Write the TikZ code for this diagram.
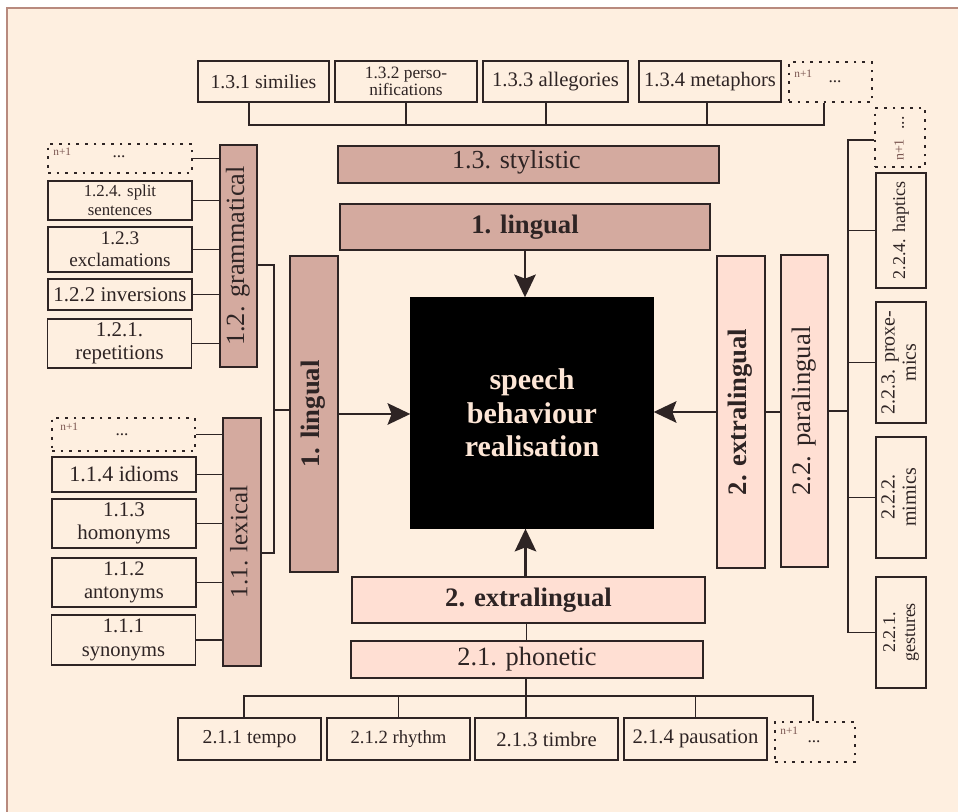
\documentclass[tikz,border=0pt]{standalone}
\usepackage{fontspec}
\setmainfont{Liberation Serif}
\usepackage{graphicx}
\usetikzlibrary{arrows.meta}
\definecolor{cream}{HTML}{FEEFE0}
\definecolor{rose}{HTML}{D4AA9F}
\definecolor{peach}{HTML}{FFDFD3}
\definecolor{ink}{HTML}{2E2424}
\definecolor{framec}{HTML}{B88A7E}
\definecolor{lighttext}{HTML}{FDE6D6}
\definecolor{faint}{HTML}{7A5550}
\newcommand\fsz[2]{\fontsize{#1pt}{#2pt}\selectfont}
\newcommand\rot[2]{\rotatebox{90}{#1\begin{tabular}{@{}c@{}}#2\end{tabular}}}
\begin{document}
\begin{tikzpicture}[x=0.75pt,y=-0.75pt,
  wh/.style 2 args={minimum width=#1*0.75pt, minimum height=#2*0.75pt},
  sbox/.style={draw=ink, line width=1.3pt, fill=cream, inner sep=0pt, text=ink, align=center},
  dbox/.style={draw=ink, line width=1.4pt, dash pattern=on 2pt off 4.5pt, inner sep=0pt},
  rosebox/.style={draw=ink, line width=1.8pt, fill=rose, inner sep=0pt, text=ink, align=center},
  peachbox/.style={draw=ink, line width=1.8pt, fill=peach, inner sep=0pt, text=ink, align=center},
  conn/.style={draw=ink, line width=1.1pt},
  arr/.style={draw=ink, line width=2.2pt, -{Stealth[length=17pt,width=16pt,inset=3pt]}},
  nplus/.style={inner sep=0pt, text=faint, font=\fsz{8.5}{9}},
  dots/.style={inner sep=0pt, text=ink, font=\fsz{13}{14}}]
\useasboundingbox (0,0) rectangle (958,812);
\clip (0,0) rectangle (958,812);
\fill[white] (0,0) rectangle (958,812);
\draw[framec, line width=1.5pt, fill=cream] (7,8) rectangle (990,850);

% coordinates of buses
\coordinate (topbus) at (0,125);
\coordinate (botbus) at (0,696);
\coordinate (lbus) at (274,0);
\coordinate (rbus) at (848,0);

% ---------- top row ----------
\node[sbox, wh={131}{41}, font=\fsz{14.8}{16}] (s131) at (263.5,81.5) {1.3.1 similies};
\node[sbox, wh={142}{41}, font=\fsz{13}{13.2}] (s132) at (406,81.5) {1.3.2 perso-\\nifications};
\node[sbox, wh={145}{41}, font=\fsz{15.5}{17}] (s133) at (555.5,81.5) {1.3.3 allegories};
\node[sbox, wh={142}{41}, font=\fsz{15.4}{17}] (s134) at (710,81.5) {1.3.4 metaphors};
\node[dbox, wh={83}{40}] (d13) at (830.5,82) {};
\node[nplus, anchor=north west] (d13n) at ([shift={(6,9)}]d13.north west) {n+1};
\node[dots] (d13d) at ([shift={(47,21)}]d13.north west) {...};

\coordinate (a1) at ([shift={(-14.5,0)}]s131.south);
\coordinate (a3) at ([shift={(-9.5,0)}]s133.south);
\coordinate (a4) at ([shift={(-3,0)}]s134.south);
\coordinate (a5) at ([shift={(-6.5,0)}]d13.south);
\draw[conn] (a1) -- (a1 |- topbus) -| (a5);
\draw[conn] (s132.south) -- (s132.south |- topbus);
\draw[conn] (a3) -- (a3 |- topbus);
\draw[conn] (a4) -- (a4 |- topbus);

% ---------- central ----------
\node[rosebox, wh={381}{37}, font=\fsz{19.5}{21}] (styl) at (528.5,164.5) {\raisebox{7pt}{1.3. stylistic}\hspace*{18pt}};
\node[rosebox, wh={370}{46}, font=\fsz{20}{22}\bfseries] (lingT) at (525,227) {1. lingual};
\node[draw=black, fill=black, line width=1pt, wh={242}{230}, text=lighttext, align=center,
      font=\fsz{22.5}{25}\bfseries] (black) at (532,413) {speech\\behaviour\\realisation};
\node[rosebox, wh={48}{316}] (lingL) at (314,414) {\rot{\fsz{20}{22}\bfseries}{1. lingual}};
\node[peachbox, wh={48}{312}] (extraR) at (741,412) {\rot{\fsz{20}{22}\bfseries}{2. extralingual}};
\node[peachbox, wh={47}{312}] (para) at (804.5,411) {\rot{\fsz{20}{22}}{2.2. paralingual}};
\node[peachbox, wh={353}{46}, font=\fsz{20}{22}\bfseries] (extraB) at (528.5,600) {2. extralingual};
\node[peachbox, wh={352}{37}, font=\fsz{19.8}{21}] (phon) at (527,659.5) {2.1. phonetic};

\draw[arr] (lingT.south) -- (lingT.south |- black.north);
\draw[arr] (lingL.east) -- (lingL.east -| black.west);
\draw[arr] (extraR.west) -- (extraR.west -| black.east);
\draw[arr] ([shift={(-3,0)}]extraB.north) -- ([shift={(-3,0)}]extraB.north |- black.south);
\draw[conn] ([shift={(-2,0)}]extraB.south) -- ([shift={(-2,0)}]extraB.south |- phon.north);

% ---------- bottom row ----------
\node[sbox, wh={143}{42}, font=\fsz{14.8}{16}] (t211) at (249.5,739) {2.1.1 tempo};
\node[sbox, wh={143}{42}, font=\fsz{14}{15}] (t212) at (398.5,739) {2.1.2 rhythm};
\node[sbox, wh={143}{42}, font=\fsz{15.5}{17}] (t213) at (546.5,739) {2.1.3 timbre};
\node[sbox, wh={143}{42}, font=\fsz{15.5}{17}] (t214) at (695.5,739) {2.1.4 pausation};
\node[dbox, wh={80}{40}] (d21) at (815,742) {};
\node[nplus, anchor=north west] (d21n) at ([shift={(6,6)}]d21.north west) {n+1};
\node[dots] (d21d) at ([shift={(40,21)}]d21.north west) {...};

\coordinate (b1) at ([shift={(-5.5,0)}]t211.north);
\coordinate (b5) at ([shift={(-2,0)}]d21.north);
\draw[conn] (b1) -- (b1 |- botbus) -| (b5);
\draw[conn] (t212.north) -- (t212.north |- botbus);
\draw[conn] (t214.north) -- (t214.north |- botbus);
\draw[conn] ([shift={(-1,0)}]phon.south) -- ([shift={(-1,0)}]phon.south |- t213.north);

% ---------- left: grammatical ----------
\node[rosebox, wh={37}{222}] (gram) at (238.5,256) {\rot{\fsz{19.7}{21}}{1.2. grammatical}};
\node[dbox, wh={144}{29}] (d12) at (120,158.5) {};
\node[nplus, anchor=north west] (d12n) at ([shift={(6,5)}]d12.north west) {n+1};
\node[dots] (d12d) at ([shift={(72,14)}]d12.north west) {...};
\node[sbox, wh={144}{39}, font=\fsz{12.6}{14}] (g124) at (120,200.5) {1.2.4. split\\sentences};
\node[sbox, wh={144}{45}, font=\fsz{14.4}{16.3}] (g123) at (120,249.5) {1.2.3\\exclamations};
\node[sbox, wh={144}{31}, font=\fsz{15.7}{17}] (g122) at (120,294.5) {1.2.2 inversions};
\node[sbox, wh={144}{49}, font=\fsz{15.7}{17.5}] (g121) at (119.5,343.5) {1.2.1.\\repetitions};
\foreach \n in {d12,g124,g123,g122,g121}
  \draw[conn] (\n.east) -- (\n.east -| gram.west);

% ---------- left: lexical ----------
\node[rosebox, wh={38}{248}] (lex) at (242,542) {\rot{\fsz{18.7}{20}}{1.1. lexical}};
\node[dbox, wh={143}{33}] (d11) at (123.5,434.5) {};
\node[nplus, anchor=north west] (d11n) at ([shift={(9,6)}]d11.north west) {n+1};
\node[dots] (d11d) at ([shift={(71,18)}]d11.north west) {...};
\node[sbox, wh={144}{35}, font=\fsz{16.5}{18}] (l114) at (124,474.5) {1.1.4 idioms};
\node[sbox, wh={144}{49}, font=\fsz{15.7}{17.5}] (l113) at (124,523.5) {1.1.3\\homonyms};
\node[sbox, wh={144}{49}, font=\fsz{15.4}{17.5}] (l112) at (124,582.5) {1.1.2\\antonyms};
\node[sbox, wh={144}{50}, font=\fsz{15.4}{17.5}] (l111) at (123.5,640) {1.1.1\\synonyms};
\foreach \n in {d11,l114,l113,l112,l111}
  \draw[conn] (\n.east) -- (\n.east -| lex.west);

\coordinate (gl) at ([shift={(0,9)}]gram.east);
\coordinate (ll) at ([shift={(0,11)}]lex.east);
\draw[conn] (gl) -- (gl -| lbus) -- (ll -| lbus) -- (ll);
\draw[conn] ([shift={(0,-4)}]lingL.west) -- ([shift={(0,-4)}]lingL.west -| lbus);

% ---------- right: paralingual ----------
\node[dbox, wh={50}{59}] (d22) at (900,137.5) {};
\node[inner sep=0pt, text=faint, rotate=90, font=\fsz{10.5}{11}] (d22n) at (899,150) {n+1};
\node[inner sep=0pt, text=ink, rotate=90, font=\fsz{13}{14}] (d22d) at (903,123) {...};
\node[sbox, wh={50}{115}] (p224) at (901,230.5) {\rot{\fsz{13.5}{15}}{2.2.4. haptics}};
\node[sbox, wh={50}{121}] (p223) at (901,362.5) {\rot{\fsz{15}{16}}{2.2.3. proxe-\\mics}};
\node[sbox, wh={50}{121}] (p222) at (901,497.5) {\rot{\fsz{15}{16}}{2.2.2.\\mimics}};
\node[sbox, wh={50}{111}] (p221) at (901,632.5) {\rot{\fsz{13.5}{15}}{2.2.1.\\gestures}};

\coordinate (r0) at ([shift={(0,2.5)}]d22.west);
\draw[conn] (r0) -- (r0 -| rbus) |- (p221.west);
\foreach \n in {p224,p223,p222}
  \draw[conn] (\n.west) -- (\n.west -| rbus);
\draw[conn] (extraR.east) -- (extraR.east -| para.west);
\draw[conn] (para.east) -- (para.east -| rbus);
\end{tikzpicture}
\end{document}
